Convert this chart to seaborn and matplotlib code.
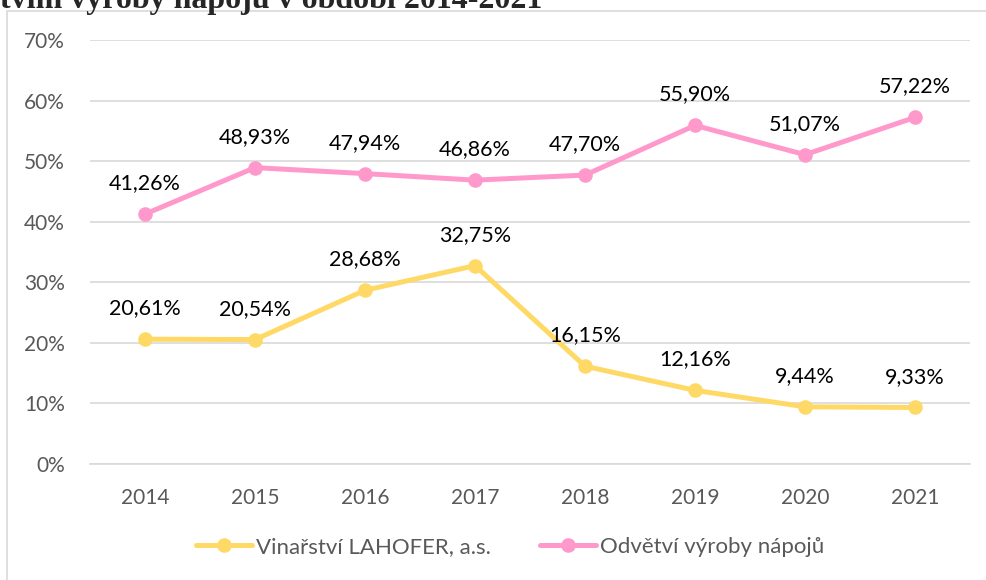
import matplotlib
matplotlib.use("Agg")
import matplotlib.pyplot as plt
import seaborn as sns
import pandas as pd
from matplotlib.patches import Rectangle
from matplotlib.lines import Line2D

years = ["2014", "2015", "2016", "2017", "2018", "2019", "2020", "2021"]
lahofer = [20.61, 20.54, 28.68, 32.75, 16.15, 12.16, 9.44, 9.33]
odvetvi = [41.26, 48.93, 47.94, 46.86, 47.70, 55.90, 51.07, 57.22]
series_names = ["Vinařství LAHOFER, a.s.", "Odvětví výroby nápojů"]
colors = ["#FFD966", "#FF99CC"]
yticks = [0, 10, 20, 30, 40, 50, 60, 70]
title_text = "tvím výroby nápojů v období 2014-2021"

df = pd.DataFrame({
    "year": years * 2,
    "value": lahofer + odvetvi,
    "series": [series_names[0]] * len(years) + [series_names[1]] * len(years),
})

sns.set_theme(style="white")
plt.rcParams["font.family"] = ["Lato", "DejaVu Sans"]

W, H = 987, 580
fig = plt.figure(figsize=(W / 100, H / 100), dpi=100)
ax = fig.add_axes([90 / W, 116 / H, 880 / W, 424 / H])

# chart frame
fig.patches.append(Rectangle((7 / W, -0.05), 1.0, (1 - 11 / H) + 0.05,
                             transform=fig.transFigure, fill=False,
                             edgecolor="#D9D9D9", linewidth=1.2, zorder=0))

sns.lineplot(data=df, x="year", y="value", hue="series", palette=colors,
             marker="o", markersize=10.5, markeredgewidth=0, linewidth=3.6,
             ax=ax, legend=False, sort=False)

ax.set_xlim(-0.5, len(years) - 0.5)
ax.set_ylim(0, 70)
ax.set_yticks(yticks)
ax.set_yticklabels([f"{v}%" for v in yticks])
ax.yaxis.grid(True, color="#D9D9D9", linewidth=1.2)
ax.xaxis.grid(False)
for s in ax.spines.values():
    s.set_visible(False)
ax.spines["bottom"].set_visible(True)
ax.spines["bottom"].set_color("#D9D9D9")
ax.spines["bottom"].set_linewidth(1.2)
ax.set_xlabel("")
ax.set_ylabel("")
ax.tick_params(axis="both", length=0, labelsize=15, colors="#595959")
ax.tick_params(axis="y", pad=18)
ax.tick_params(axis="x", pad=17)

def fmt(v):
    return f"{v:.2f}%".replace(".", ",")

for series in (lahofer, odvetvi):
    for i, v in enumerate(series):
        ax.annotate(fmt(v), (i, v), xytext=(0, 15), textcoords="offset points",
                    ha="center", va="bottom", fontsize=15.5, color="black")

handles = [Line2D([0], [0], color=c, linewidth=3.6, marker="o", markersize=10.5,
                  markeredgewidth=0) for c in colors]
leg = fig.legend(handles, series_names, loc="center",
                 bbox_to_anchor=(0.5 + 17 / W, 1 - 547 / H),
                 ncol=2, frameon=False, fontsize=16, handlelength=2.5,
                 columnspacing=2.2, handletextpad=0.2)
for t in leg.get_texts():
    t.set_color("#595959")

fig.text(0.0, 1 - 8 / H, title_text, fontsize=23, fontweight="bold",
         family=["Liberation Serif", "DejaVu Serif"], ha="left", va="baseline")

fig.savefig("out.png", dpi=100)
